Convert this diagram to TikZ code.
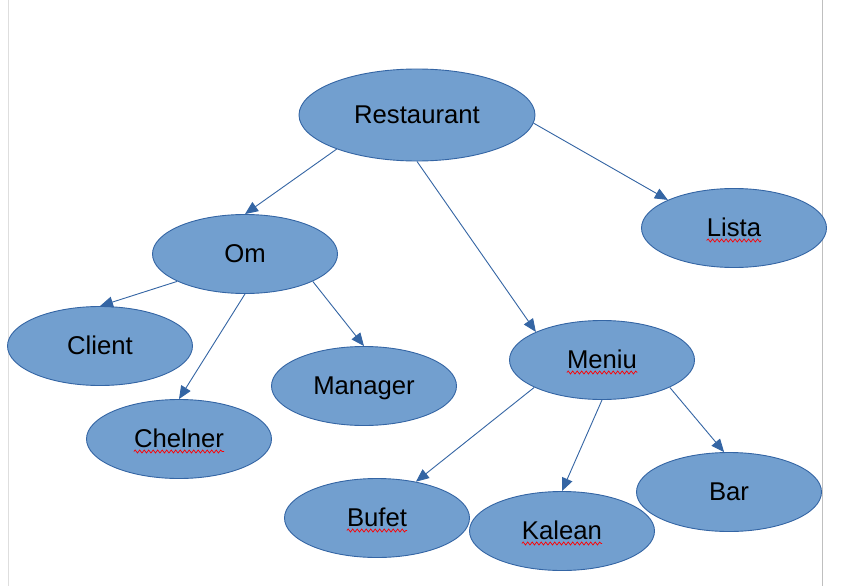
\documentclass[tikz,border=0pt]{standalone}
\usepackage{fontspec}
\setmainfont{Liberation Sans}
\usetikzlibrary{arrows.meta,shapes.geometric,decorations.pathmorphing,calc}
\definecolor{fillblue}{HTML}{729FCF}
\definecolor{lineblue}{HTML}{3465A4}
\begin{document}
\begin{tikzpicture}[x=1pt,y=-1pt,
  ell/.style={ellipse,draw=lineblue,fill=fillblue,line width=0.9pt,minimum width=185pt,minimum height=79pt,inner sep=0pt},
  txt/.style={inner sep=0pt,anchor=base,font=\fontsize{25.7}{30}\selectfont,text=black},
  conn/.style={draw=lineblue,line width=0.9pt,-{Triangle[length=13pt,width=11pt]}},
  wavy/.style={draw=red,line width=0.7pt,decorate,decoration={snake,amplitude=1.5pt,segment length=4.5pt}},
  pageline/.style={line width=1.5pt}]
\useasboundingbox (0,0) rectangle (846,586);
\fill[white] (0,0) rectangle (846,586);
\draw[pageline,draw=black!13] (8.5,0) -- (8.5,586);
\draw[pageline,draw=black!25,line width=1pt] (822.5,0) -- (822.5,586);

\node[ell,minimum width=236pt,minimum height=92pt] (R) at (417,115) {};
\node[ell] (O) at (245,254) {};
\node[ell] (L) at (734,228) {};
\node[ell] (C) at (100,346) {};
\node[ell] (Ma) at (364,386) {};
\node[ell] (Ch) at (179,439) {};
\node[ell] (Me) at (602,360) {};
\node[ell] (Bu) at (377,518) {};
\node[ell] (K) at (562,531) {};
\node[ell] (Ba) at (729,492) {};

\node[txt] (Rt) at ($(R)+(0,8.5)$) {Restaurant};
\node[txt] (Ot) at ($(O)+(0,8.5)$) {Om};
\node[txt] (Lt) at ($(L)+(0,8.5)$) {Lista};
\node[txt] (Ct) at ($(C)+(0,8.5)$) {Client};
\node[txt] (Mat) at ($(Ma)+(0,8.5)$) {Manager};
\node[txt] (Cht) at ($(Ch)+(0,8.5)$) {Chelner};
\node[txt] (Met) at ($(Me)+(0,8.5)$) {Meniu};
\node[txt] (But) at ($(Bu)+(0,8.5)$) {Bufet};
\node[txt] (Kt) at ($(K)+(0,8.5)$) {Kalean};
\node[txt] (Bat) at ($(Ba)+(0,8.5)$) {Bar};

\foreach \n in {Lt,Cht,Met,But,Kt}{
  \draw[wavy] ($(\n.base west)+(0,4)$) -- ($(\n.base east)+(0,4)$);
}

\draw[conn] (R.203) -- (O.north);
\draw[conn] (R.south) -- (Me.157);
\draw[conn] (R.-4.4) -- (L.157);
\draw[conn] (O.202.7) -- (C.north);
\draw[conn] (O.south) -- (Ch.north);
\draw[conn] (O.-22.4) -- (Ma.north);
\draw[conn] (Me.202.7) -- (Bu.43);
\draw[conn] (Me.south) -- (K.north);
\draw[conn] (Me.-22) -- (Ba.97);
\end{tikzpicture}
\end{document}
